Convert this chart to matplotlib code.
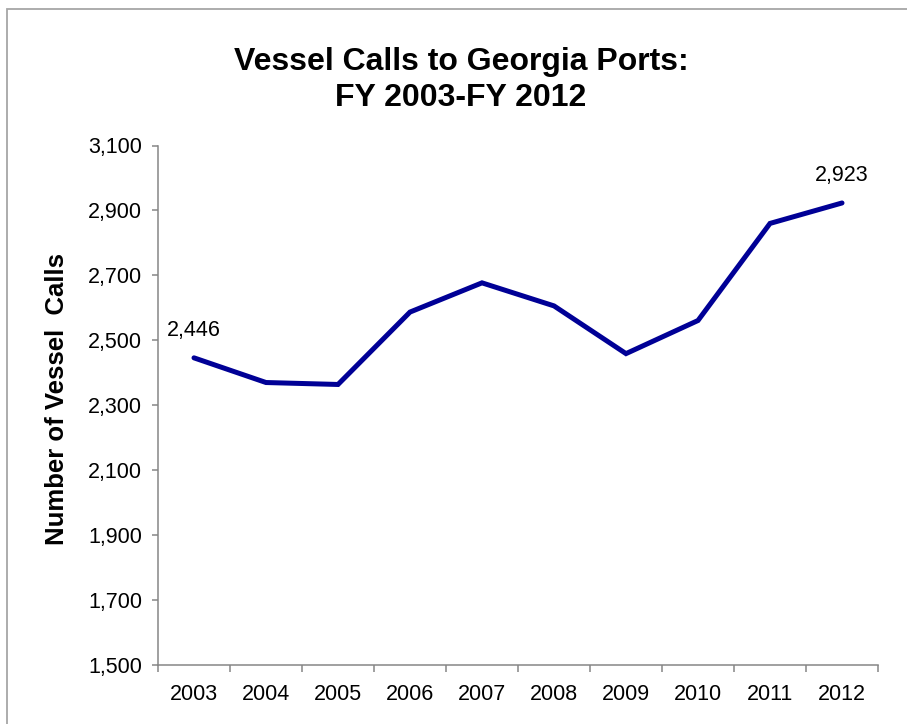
import matplotlib
matplotlib.use('Agg')
import matplotlib.pyplot as plt
from matplotlib.patches import Rectangle
from matplotlib.ticker import FuncFormatter

# Vessel calls by fiscal year
years = ['2003', '2004', '2005', '2006', '2007', '2008', '2009', '2010', '2011', '2012']
calls = [2446, 2370, 2364, 2587, 2677, 2606, 2459, 2561, 2860, 2923]
labelled = {0: '2,446', 9: '2,923'}

plt.rcParams['font.family'] = ['Liberation Sans', 'DejaVu Sans']
axis_grey = '#868686'

fig = plt.figure(figsize=(9.07, 7.24), dpi=100)
fig.patch.set_facecolor('white')

# chart frame, open on the right and bottom
fig.patches.append(Rectangle((6.5 / 907, -0.1), 1.2, 1 - 8.5 / 724 + 0.1,
                             transform=fig.transFigure, fill=False,
                             edgecolor='#A6A6A6', linewidth=1.3))

ax = fig.add_axes([158 / 907, 59 / 724, 720 / 907, 519.5 / 724])
x = list(range(len(years)))
ax.plot(x, calls, color='#000096', linewidth=3.6, solid_capstyle='round',
        solid_joinstyle='miter')

for i, txt in labelled.items():
    ax.annotate(txt, (x[i], calls[i]), xytext=(0, 15.5), textcoords='offset points',
                ha='center', va='baseline', fontsize=15.5)

ax.set_xlim(-0.5, len(years) - 0.5)
ax.set_ylim(1500, 3100)
ax.set_yticks(range(1500, 3101, 200))
ax.yaxis.set_major_formatter(FuncFormatter(lambda v, p: f'{int(v):,}'))

# category boundaries get the tick marks, centres get the labels
ax.set_xticks([i - 0.5 for i in range(len(years) + 1)])
ax.set_xticklabels([])
ax.set_xticks(x, minor=True)
ax.set_xticklabels(years, minor=True)
ax.tick_params(axis='x', which='major', length=5, width=1.1, color=axis_grey)
ax.tick_params(axis='x', which='minor', length=0, pad=14, labelsize=15.5)
ax.tick_params(axis='y', length=4.3, width=1.1, color=axis_grey, pad=7, labelsize=15.5)

for side in ['top', 'right']:
    ax.spines[side].set_visible(False)
for side in ['left', 'bottom']:
    ax.spines[side].set_color(axis_grey)
    ax.spines[side].set_linewidth(1.1)

fig.text(461 / 907, 1 - 80 / 724, 'Vessel Calls to Georgia Ports:\nFY 2003-FY 2012',
         ha='center', va='center', fontsize=23, fontweight='bold', linespacing=1.25)
fig.text(57 / 907, 1 - 399 / 724, 'Number of Vessel  Calls', rotation=90,
         ha='center', va='center', fontsize=18.5, fontweight='bold')

fig.savefig('out.png', dpi=100)
